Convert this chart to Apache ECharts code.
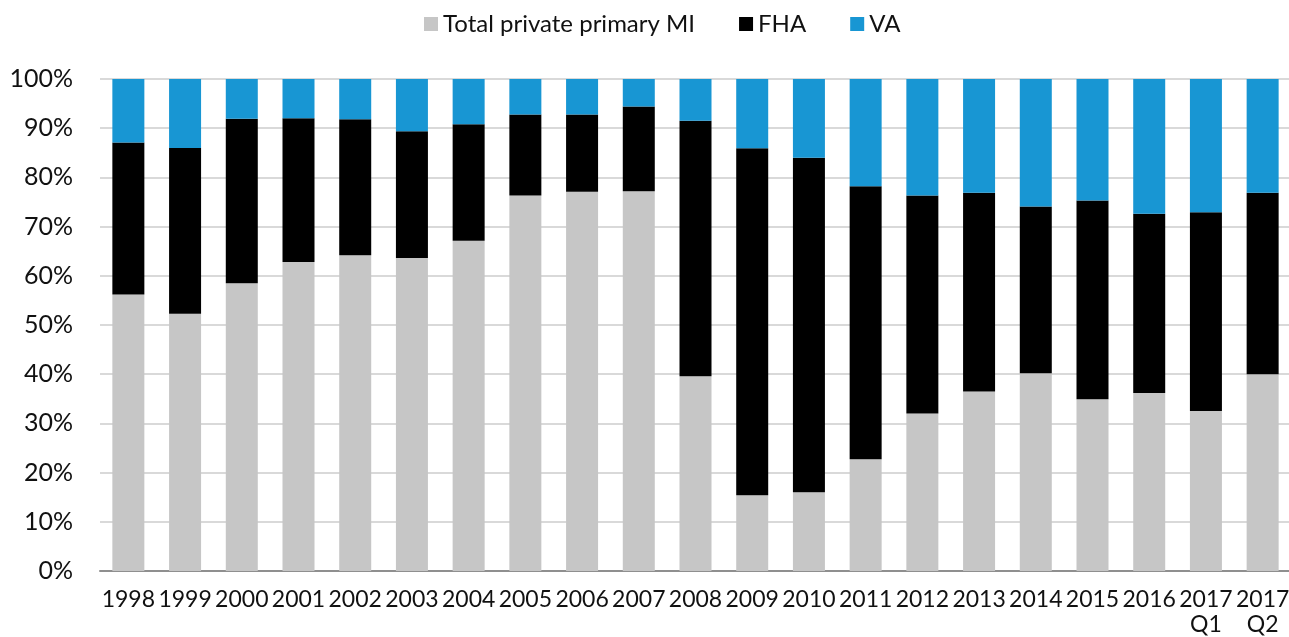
<!DOCTYPE html>
<html>
<head>
<meta charset="utf-8">
<title>Mortgage insurance market share</title>
<script src="https://cdn.jsdelivr.net/npm/echarts@6/dist/echarts.min.js"></script>
<style>
  html, body { margin: 0; padding: 0; background: #fff; }
  #chart { width: 1289px; height: 637px; }
</style>
</head>
<body>
<div id="chart"></div>
<script>
// Share of insured mortgage originations by insurer type (percent of total)
const categories = ['1998', '1999', '2000', '2001', '2002', '2003', '2004', '2005', '2006', '2007',
  '2008', '2009', '2010', '2011', '2012', '2013', '2014', '2015', '2016', '2017\nQ1', '2017\nQ2'];

const privateMI = [56.2, 52.3, 58.5, 62.8, 64.2, 63.6, 67.1, 76.3, 77.1, 77.2,
  39.6, 15.4, 16.0, 22.7, 32.0, 36.5, 40.2, 34.9, 36.2, 32.5, 40.0];
const fha = [30.9, 33.7, 33.4, 29.2, 27.6, 25.8, 23.7, 16.5, 15.7, 17.2,
  51.9, 70.5, 68.0, 55.5, 44.3, 40.4, 33.9, 40.4, 36.4, 40.4, 36.9];
const va = [12.9, 14.0, 8.1, 8.0, 8.2, 10.6, 9.2, 7.2, 7.2, 5.6,
  8.5, 14.1, 16.0, 21.8, 23.7, 23.1, 25.9, 24.7, 27.4, 27.1, 23.1];

const seriesNames = ['Total private primary MI', 'FHA', 'VA'];
const yTicks = { min: 0, max: 100, step: 10 };

const FONT = 'Lato, "Open Sans", sans-serif';
const colors = ['#c6c6c6', '#000000', '#1896d3'];

const chart = echarts.init(document.getElementById('chart'), null, { renderer: 'canvas' });

const makeBar = (name, data, color) => ({
  name,
  type: 'bar',
  stack: 'share',
  data,
  barWidth: 32,
  itemStyle: { color },
  emphasis: { disabled: true }
});

chart.setOption({
  animation: false,
  textStyle: { fontFamily: FONT },
  color: colors,
  legend: {
    left: 419,
    top: 7,
    itemWidth: 14,
    itemHeight: 14,
    itemGap: 44,
    icon: 'rect',
    textStyle: { fontFamily: FONT, fontSize: 24, color: '#111' },
    data: seriesNames
  },
  grid: {
    left: 100, right: -2, top: 79, bottom: 66,
    containLabel: false,
    outerBoundsMode: 'none'
  },
  xAxis: {
    type: 'category',
    data: categories,
    axisTick: { show: false },
    axisLine: { lineStyle: { color: '#8f8f8f', width: 2 } },
    axisLabel: {
      interval: 0,
      margin: 16,
      fontFamily: FONT,
      fontSize: 23,
      lineHeight: 25,
      color: '#111'
    }
  },
  yAxis: {
    type: 'value',
    min: yTicks.min,
    max: yTicks.max,
    interval: yTicks.step,
    axisLine: { show: false },
    axisTick: { show: false },
    splitLine: { lineStyle: { color: '#d9d9d9', width: 2 } },
    axisLabel: {
      formatter: '{value}%',
      margin: 27,
      fontFamily: FONT,
      fontSize: 25,
      color: '#111'
    }
  },
  series: [
    makeBar(seriesNames[0], privateMI, colors[0]),
    makeBar(seriesNames[1], fha, colors[1]),
    makeBar(seriesNames[2], va, colors[2])
  ]
});
</script>
</body>
</html>
